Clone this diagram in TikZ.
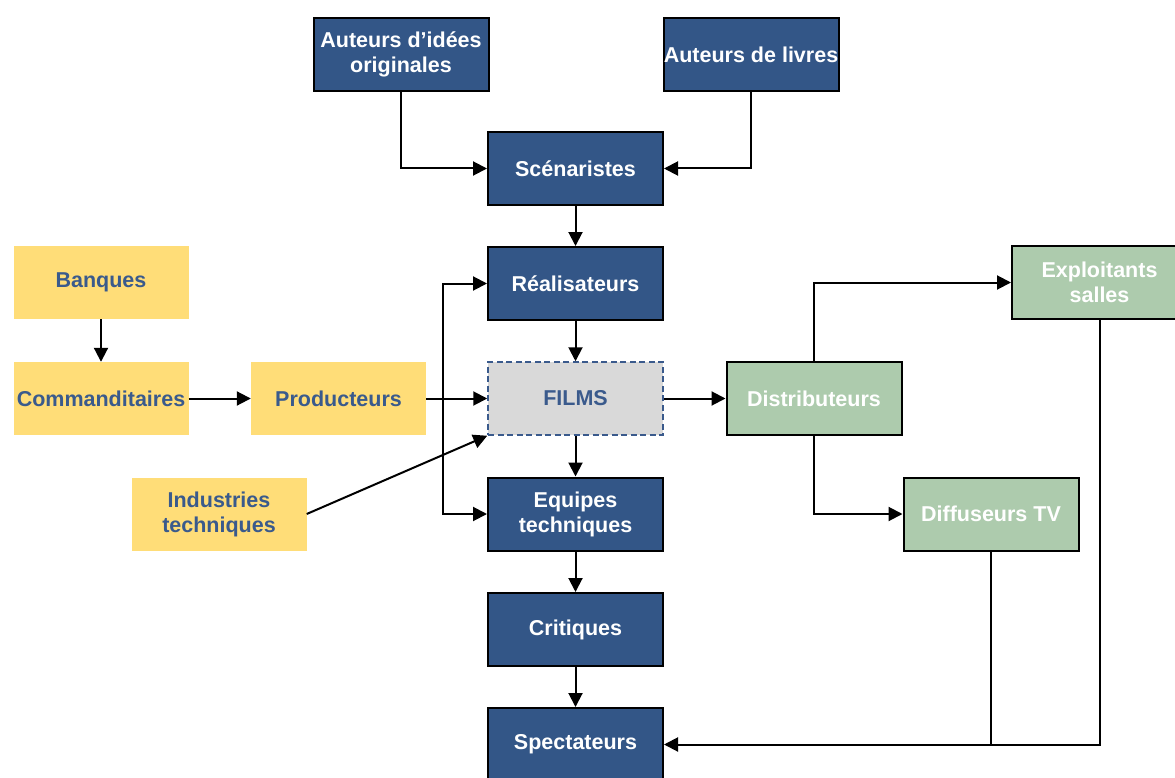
\documentclass[tikz,border=0pt]{standalone}
\usepackage{fontspec}
\setmainfont{Liberation Sans}
\usetikzlibrary{arrows.meta}
\definecolor{dblue}{HTML}{335687}
\definecolor{tblue}{HTML}{3A5A8C}
\definecolor{yel}{HTML}{FFDD78}
\definecolor{grn}{HTML}{ADCBAD}
\definecolor{gry}{HTML}{D9D9D9}
\begin{document}
\begin{tikzpicture}[x=1pt,y=-1pt,
  box/.style={rectangle, minimum width=175pt, minimum height=73pt, inner sep=0pt, align=center,
    font=\fontsize{21.5}{25}\selectfont\bfseries},
  bluebox/.style={box, fill=dblue, draw=black, line width=2pt, text=white},
  yelbox/.style={box, fill=yel, text=tblue},
  grnbox/.style={box, fill=grn, draw=black, line width=2pt, text=white},
  filmbox/.style={box, fill=gry, draw=tblue, line width=1.5pt, dash pattern=on 6pt off 3.5pt, text=tblue},
  arr/.style={draw=black, line width=2pt, -{Triangle[length=14pt,width=14pt]}},
  ln/.style={draw=black, line width=2pt}]
\useasboundingbox (0,0) rectangle (1175,778);
\clip (0,0) rectangle (1175,778);
\node[bluebox] (aid) at (401,54.5) {Auteurs d’idées\\originales};
\node[bluebox] (alv) at (751,54.5) {Auteurs de livres};
\node[bluebox] (scen) at (575.5,168.5) {Scénaristes};
\node[bluebox] (real) at (575.5,283.5) {Réalisateurs};
\node[filmbox] (films) at (575.5,398.5) {FILMS};
\node[bluebox] (equip) at (575.5,514) {Equipes\\techniques};
\node[bluebox] (crit) at (575.5,629.5) {Critiques};
\node[bluebox] (spec) at (575.5,744.5) {Spectateurs};
\node[yelbox] (banq) at (101,282.5) {Banques};
\node[yelbox] (comm) at (101,398.5) {Commanditaires};
\node[yelbox] (prod) at (338.5,398.5) {Producteurs};
\node[yelbox] (indus) at (219,514) {Industries\\techniques};
\node[grnbox] (dist) at (814,398.5) {Distributeurs};
\node[grnbox] (expl) at (1099.5,282.5) {Exploitants\\salles};
\node[grnbox] (diff) at (991,514) {Diffuseurs TV};
\coordinate (bx) at (443,398.5);
\coordinate (jn) at (991,744.5);
\draw[arr] (aid.south) |- (scen.west);
\draw[arr] (alv.south) |- (scen.east);
\draw[arr] (scen) -- (real);
\draw[arr] (real) -- (films);
\draw[arr] (films) -- (equip);
\draw[arr] (equip) -- (crit);
\draw[arr] (crit) -- (spec);
\draw[arr] (banq) -- (comm);
\draw[arr] (comm) -- (prod);
\draw[arr] (prod) -- (films);
\draw[arr] (bx) |- (real.west);
\draw[arr] (bx) |- (equip.west);
\draw[arr] (indus.east) -- (films.south west);
\draw[arr] (films) -- (dist);
\draw[arr] (dist.north) |- (expl.west);
\draw[arr] (dist.south) |- (diff.west);
\draw[arr] (expl.south) |- (spec.east);
\draw[ln] (diff.south) -- (jn);
\end{tikzpicture}
\end{document}
